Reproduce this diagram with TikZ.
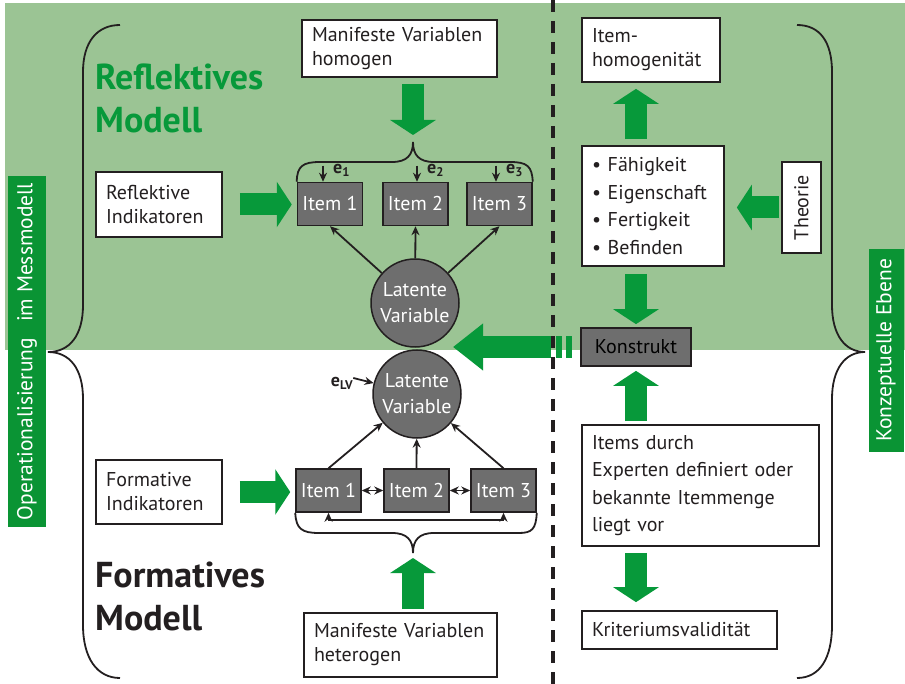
\documentclass[tikz,border=0pt]{standalone}
\usepackage{fontspec}
\setmainfont{PT Sans}
\usetikzlibrary{arrows.meta,calc,positioning}
\definecolor{mmgreen}{HTML}{9BC494}
\definecolor{mmarrow}{HTML}{07993A}
\definecolor{mmlabel}{HTML}{0A9434}
\definecolor{mmgray}{HTML}{6E6E6E}
\definecolor{mmink}{HTML}{231F20}
\tikzset{
  mm box/.style={
    draw=mmink,
    line width=1.7pt,
    fill=white,
    align=left,
    inner xsep=10pt,
    inner ysep=4pt,
    text=mmink,
    font=\fontsize{20}{24}\selectfont,
  },
  mm item/.style={
    draw=mmink,
    line width=1.5pt,
    fill=mmgray,
    text=white,
    minimum width=65pt,
    minimum height=43pt,
    font=\fontsize{20}{24}\selectfont,
  },
  mm latent/.style={
    circle,
    draw=mmink,
    line width=1.5pt,
    fill=mmgray,
    text=white,
    minimum size=88pt,
    align=center,
    font=\fontsize{20}{26}\selectfont,
  },
  mm tag/.style={
    fill=mmlabel,
    text=white,
    rotate=90,
    font=\fontsize{21.5}{24}\selectfont,
  },
  mm title/.style={
    anchor=north west,
    align=left,
    font=\fontsize{36}{43}\selectfont\bfseries,
  },
  mm err/.style={font=\fontsize{18}{20}\selectfont\bfseries, text=mmink},
  mm arrow/.style={->, line width=1.8pt, draw=mmink},
  mm both/.style={<->, line width=1.8pt, draw=mmink},
  mm brace/.style={line width=1.8pt, draw=mmink},
  mm green/.style={-{Triangle[width=45pt,length=15pt]}, line width=22pt, draw=mmarrow},
}

\begin{document}
\begin{tikzpicture}[x=1pt, y=-1pt, >={Stealth[length=9pt,width=8pt]},
  every node/.style={inner sep=0pt}]
  \useasboundingbox (0,0) rectangle (905,684);

  % --- Background of the reflective half ---
  \fill[mmgreen] (5,3) rectangle (905,350);

  % --- Side tags ---
  \node[mm tag, minimum width=351pt, minimum height=38pt] (opstag) at (27,351.5)
    {Operationalisierung\hspace{16pt}im Messmodell};
  \node[mm tag, minimum width=203pt, minimum height=35pt] (konztag) at (886,350.5)
    {Konzeptuelle Ebene};

  % --- Outer braces ---
  \draw[mm brace] (120,25) .. controls (97,25) and (83,42) .. (83,72) -- (83,305)
    .. controls (83,335) and (70,352) .. (48,352)
    .. controls (70,352) and (83,369) .. (83,399) -- (83,625)
    .. controls (83,658) and (97,678) .. (120,678);
  \draw[mm brace] (797,25) .. controls (820,25) and (832,42) .. (832,72) -- (832,305)
    .. controls (832,335) and (845,352) .. (865,352)
    .. controls (845,352) and (832,369) .. (832,399) -- (832,625)
    .. controls (832,658) and (820,678) .. (797,678);

  % --- Reflective model ---
  \node[mm title, text=mmarrow] (reftitle) at (95,64) {Reflektives\\Modell};
  \node[mm box, text width=175pt, minimum height=57pt] (mvhom) at (399.5,48.5)
    {Manifeste Variablen\\homogen};
  \node[mm box, text width=106pt, minimum height=65pt] (refind) at (159,204.5)
    {Reflektive\\Indikatoren};
  \node[mm item] (i1) at (330,204) {Item 1};
  \node[mm item] (i2) at (415.5,204) {Item 2};
  \node[mm item] (i3) at (499.5,204) {Item 3};
  \node[mm latent] (lv1) at (415,303) {Latente\\Variable};

  \coordinate (rtip) at (413,142);
  \draw[mm brace] (i1.north west) .. controls (297,166) and (303,162) .. (320,162) -- (392,162)
    .. controls (407,162) and (413,155) .. (rtip)
    .. controls (413,155) and (419,162) .. (434,162) -- (510,162)
    .. controls (527,162) and (532,166) .. (i3.north east);

  % error terms
  \draw[mm arrow] ([xshift=-7pt,yshift=16pt]i1.north) -- ([xshift=-7pt]i1.north);
  \draw[mm arrow] ([xshift=1.5pt,yshift=16pt]i2.north) -- ([xshift=1.5pt]i2.north);
  \draw[mm arrow] ([xshift=-3.5pt,yshift=16pt]i3.north) -- ([xshift=-3.5pt]i3.north);
  \node[mm err, anchor=west] (e1) at ([xshift=3pt,yshift=11pt]i1.north) {e\textsubscript{1}};
  \node[mm err, anchor=west] (e2) at ([xshift=11.5pt,yshift=11pt]i2.north) {e\textsubscript{2}};
  \node[mm err, anchor=west] (e3) at ([xshift=6.5pt,yshift=11pt]i3.north) {e\textsubscript{3}};

  \draw[mm arrow] (lv1) -- (i1.south);
  \draw[mm arrow] (lv1) -- (i2.south);
  \draw[mm arrow] (lv1) -- (i3.south);

  \draw[mm green, shorten <=6pt, shorten >=7pt] (mvhom.south -| rtip) -- (rtip);
  \draw[mm green, shorten <=17pt, shorten >=5pt] (refind.east) -- (refind.east -| i1.west);

  % --- Formative model ---
  \node[mm title, text=mmink] (formtitle) at (95,562) {Formatives\\Modell};
  \node[mm box, text width=106pt, minimum height=64pt] (formind) at (159,492)
    {Formative\\Indikatoren};
  \node[mm item] (j1) at (328.5,490.5) {Item 1};
  \node[mm item] (j2) at (416.5,490.5) {Item 2};
  \node[mm item] (j3) at (503.5,490.5) {Item 3};
  \node[mm latent] (lv2) at (417,394) {Latente\\Variable};
  \node[mm box, text width=173pt, minimum height=64pt] (mvhet) at (400.5,645)
    {Manifeste Variablen\\heterogen};

  \node[mm err] (elv) at (342,383) {e\textsubscript{LV}};
  \draw[mm arrow] ([yshift=5pt]elv.east) -- (lv2);

  \draw[mm arrow] (j1.north) -- (lv2);
  \draw[mm arrow] (j2.north) -- (lv2);
  \draw[mm arrow] (j3.north) -- (lv2);
  \draw[mm both] (j1) -- (j2);
  \draw[mm both] (j2) -- (j3);
  \coordinate (jbase) at (416,520);
  \draw[mm both] (j1.south) |- (jbase) -| (j3.south);

  \coordinate (ftip) at (413,553);
  \draw[mm brace] (j1.south west) .. controls (296,529) and (302,533) .. (319,533) -- (392,533)
    .. controls (407,533) and (413,540) .. (ftip)
    .. controls (413,540) and (419,533) .. (434,533) -- (519,533)
    .. controls (532,533) and (536,529) .. (j3.south east);

  \draw[mm green, shorten <=3pt, shorten >=5pt] (mvhet.north -| ftip) -- (ftip);
  \draw[mm green, shorten <=17pt, shorten >=5pt] (formind.east) -- (formind.east -| j1.west);

  % --- Conceptual level ---
  \node[mm box, text width=118pt, minimum height=64pt] (itemhom) at (651,50)
    {Item-\\homogenität};
  \node[mm box, text width=122pt, minimum height=120pt, font=\fontsize{20}{27.5}\selectfont]
    (traits) at (653,206)
    {\textbullet\ Fähigkeit\\\textbullet\ Eigenschaft\\\textbullet\ Fertigkeit\\\textbullet\ Befinden};
  \node[mm box, rotate=90, minimum width=91pt, minimum height=39pt, inner xsep=0pt]
    (theorie) at (801.5,207.5) {Theorie};
  \node[mm box, fill=mmgray, text=black, align=center, minimum width=110pt, minimum height=38pt]
    (konstrukt) at (636,347) {\color{black}Konstrukt};
  \node[mm box, text width=217pt, minimum height=121pt, font=\fontsize{20}{27.5}\selectfont]
    (experts) at (700.5,485.5)
    {Items durch\\Experten definiert oder\\bekannte Itemmenge\\liegt vor};
  \node[mm box, text width=175pt, minimum height=38pt] (kritval) at (679.5,630)
    {Kriteriumsvalidität};

  \draw[mm green, shorten <=6pt, shorten >=6pt] (traits.north -| konstrukt) -- (itemhom.south -| konstrukt);
  \draw[mm green, shorten <=2pt, shorten >=12pt] (theorie.north) -- (theorie.north -| traits.east);
  \draw[mm green, shorten <=7pt, shorten >=3pt] (traits.south -| konstrukt) -- (konstrukt.north);
  \draw[mm green, shorten <=3pt, shorten >=4pt] (experts.north -| konstrukt) -- (konstrukt.south);
  \draw[mm green, shorten <=6pt, shorten >=8pt] (experts.south -| konstrukt) -- (kritval.north -| konstrukt);

  % --- Construct feeds the latent variable ---
  \coordinate (lvgap) at ($(lv1.south)!0.5!(lv2.north)$);
  \draw[mm green, -{Triangle[width=45pt,length=30pt]}, shorten >=37pt]
    ([xshift=-29pt]konstrukt.west) -- (konstrukt.west -| lvgap);
  \fill[mmarrow] ([xshift=-24pt,yshift=-11pt]konstrukt.west) rectangle ([xshift=-18pt,yshift=11pt]konstrukt.west);
  \fill[mmarrow] ([xshift=-14pt,yshift=-11pt]konstrukt.west) rectangle ([xshift=-8pt,yshift=11pt]konstrukt.west);

  % --- Divider ---
  \draw[mmink, line width=4pt, dash pattern=on 12pt off 9pt] (553,0) -- (553,684);

\end{tikzpicture}
\end{document}
